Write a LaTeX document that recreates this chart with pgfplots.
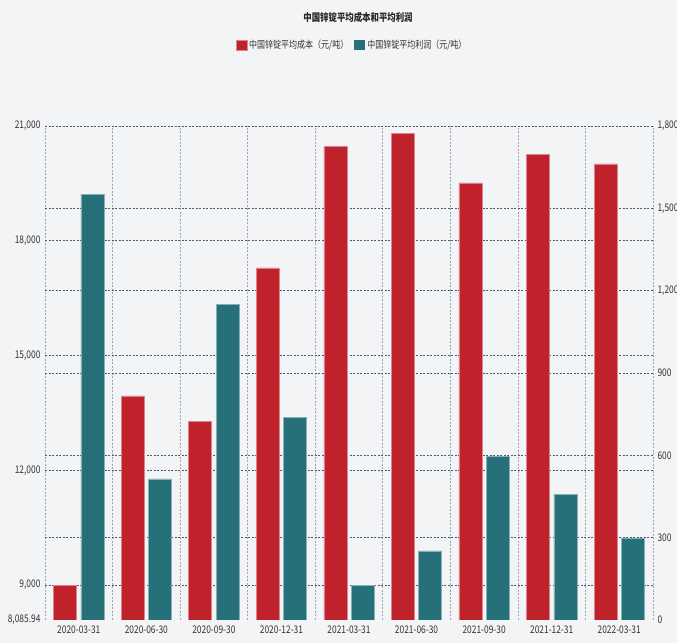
\documentclass[border=0pt]{standalone}
\usepackage{fontspec}
\setmainfont{Noto Sans CJK SC}[FakeStretch=0.8]
\usepackage{pgfplots}
\pgfplotsset{compat=1.18}
\definecolor{bg}{HTML}{F3F4F6}
\definecolor{cred}{HTML}{C0222B}
\definecolor{cteal}{HTML}{26707A}
\definecolor{hgrid}{HTML}{50557A}
\definecolor{vgrid}{HTML}{A0A2B6}
\pagecolor{bg}
\begin{document}
\begin{tikzpicture}
\pgfplotsset{
  common/.style={
    set layers=standard,
    at={(0,0)}, anchor=south west,
    scale only axis, width=608bp, height=494bp,
    xmin=-0.5, xmax=8.5,
    axis line style={draw=none},
    major tick length=0pt, minor tick length=0pt,
    ybar, bar width=23bp,
    ymajorgrids,
    scaled y ticks=false,
    major grid style={hgrid, dash pattern=on 2bp off 1.5bp, line width=0.6bp},
    tick label style={font=\fontsize{10.5bp}{12bp}\selectfont, text=black!80},
    /pgf/number format/assume math mode=true,
  },
}
\begin{axis}[common,
  ymin=8085.94, ymax=21000,
  ytick={9000,12000,15000,18000,21000},
  yticklabels={{9,000},{12,000},{15,000},{18,000},{21,000}},
  extra y ticks={8085.94},
  extra y tick labels={8{,}085.94},
  extra y tick style={grid=none},
  yticklabel style={xshift=-1bp},
  xtick={0,...,8},
  xticklabels={2020-03-31,2020-06-30,2020-09-30,2020-12-31,2021-03-31,2021-06-30,2021-09-30,2021-12-31,2022-03-31},
  xticklabel style={yshift=-2bp},
  minor xtick={-0.5,0.5,...,8.5},
  xminorgrids,
  minor grid style={vgrid, dash pattern=on 2bp off 1.5bp, line width=0.6bp},
  legend image code/.code={\fill[#1] (0bp,-5bp) rectangle (11bp,5bp);},
  legend style={at={(0.505,1.164)}, anchor=center, draw=none, fill=none,
    legend columns=2, font=\fontsize{10bp}{12bp}\selectfont, text=black!80,
    /tikz/every even column/.append style={column sep=4bp}},
]
\addplot[fill=cred, draw=cred!55!white, line width=0.6bp, bar shift=-13.7bp]
  coordinates {(0,8995) (1,13945) (2,13273) (3,17290) (4,20470) (5,20809) (6,19511) (7,20261) (8,20007)};
\addlegendentry{中国锌锭平均成本（元/吨）}
\addlegendimage{fill=cteal, draw=none}
\addlegendentry{中国锌锭平均利润（元/吨）}
\draw[black!25, line width=0.8bp] (axis cs:-0.5,8085.94) -- (axis cs:8.5,8085.94);
\end{axis}
\begin{axis}[common,
  ymin=0, ymax=1800,
  ytick={300,600,900,1200,1500,1800},
  yticklabels={300,600,900,{1,200},{1,500},{1,800}},
  extra y ticks={0},
  extra y tick labels={0},
  extra y tick style={grid=none},
  yticklabel pos=right,
  yticklabel style={xshift=1bp},
  xtick=\empty,
]
\addplot[fill=cteal, draw=cteal!55!white, line width=0.6bp, bar shift=13.7bp]
  coordinates {(0,1551) (1,514) (2,1151) (3,737) (4,125) (5,252) (6,595) (7,459) (8,299)};
\end{axis}
\node[font=\bfseries\fontsize{10.5bp}{12bp}\selectfont, text=black!85] at (313bp,602bp) {中国锌锭平均成本和平均利润};
\pgfresetboundingbox
\path[use as bounding box] (-45bp,-23bp) rectangle (632bp,620bp);
\end{tikzpicture}
\end{document}
